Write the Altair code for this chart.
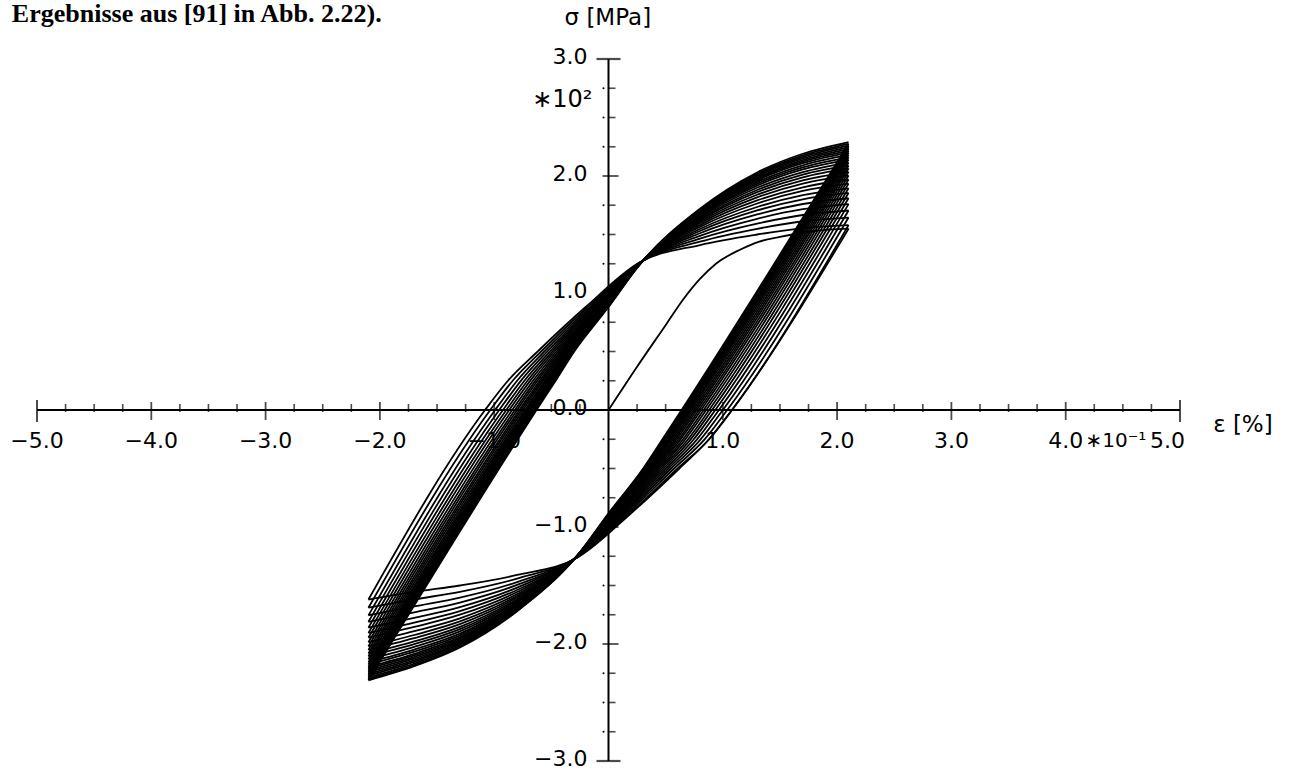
import altair as alt
import pandas as pd

# Axis ranges: strain in 1e-1 %, stress in 1e2 MPa
X_DOMAIN = [-5.0, 5.0]
Y_DOMAIN = [-3.0, 3.0]
STRAIN_AMP = 2.1

# Tension peak stresses: initial loading first, then every reloading branch
tension_peaks = [1.55, 1.58, 1.645, 1.705, 1.76, 1.81, 1.855, 1.895, 1.935, 1.97,
                 2.005, 2.035, 2.065, 2.09, 2.115, 2.14, 2.16, 2.18, 2.20, 2.215,
                 2.23, 2.245, 2.26, 2.275, 2.29]
# Compression peak stresses (magnitudes), one per unloading branch
compression_peaks = [1.62, 1.69, 1.755, 1.81, 1.86, 1.905, 1.945, 1.985, 2.02, 2.05,
                     2.08, 2.105, 2.13, 2.155, 2.175, 2.195, 2.21, 2.225, 2.24, 2.255,
                     2.27, 2.285, 2.30, 2.31]

# Reloading branch of the first and of the last cycle (strain, stress)
first_branch_eps = [-2.10, -1.08, -0.88, -0.62, -0.20, 0.27, 0.80, 1.30, 1.70, 2.10]
first_branch_sig = [-1.62, 0.00, 0.25, 0.50, 0.88, 1.26, 1.41, 1.50, 1.555, 1.58]
last_branch_eps = [-2.10, -0.63, -0.45, -0.30, 0.00, 0.27, 0.80, 1.30, 1.70, 2.10]
last_branch_sig = [-2.31, 0.00, 0.27, 0.50, 0.88, 1.24, 1.72, 2.03, 2.19, 2.29]

# Initial loading curve
initial_eps = [0.0, 0.25, 0.51, 0.65, 0.80, 0.94, 1.15, 1.32, 1.50, 1.80, 2.10]
initial_sig = [0.0, 0.37, 0.74, 0.94, 1.12, 1.25, 1.37, 1.44, 1.48, 1.53, 1.55]

# Axis ticks
x_major = [-4, -3, -2, -1, 1, 2, 3, 4]
x_minor = [i / 4 for i in range(-19, 20) if i % 4 != 0]
y_major = [-2, -1, 1, 2]
y_minor = [i / 4 for i in range(-11, 12) if i % 4 != 0]

x_label_vals = [-5, -4, -3, -2, -1, 1, 2, 3, 4]
x_label_txt = ["\u22125.0", "\u22124.0", "\u22123.0", "\u22122.0", "\u22121.0",
               "1.0", "2.0", "3.0", "4.0"]
y_label_vals = [-3, -2, -1, 0, 1, 2, 3]
y_label_txt = ["\u22123.0", "\u22122.0", "\u22121.0", "0.0", "1.0", "2.0", "3.0"]

LABEL_FONT = "DejaVu Sans"
LABEL_SIZE = 22
INK = "#000000"


def clamp01(v):
    return max(0.0, min(1.0, v))


def branch(rev_mag, end_mag, w_rev, w_end):
    pts = []
    for i in range(len(first_branch_eps)):
        if i <= 2:
            w = w_rev
        elif i >= 5:
            w = w_end
        else:
            w = 0.5 * (w_rev + w_end)
        e = first_branch_eps[i] + (last_branch_eps[i] - first_branch_eps[i]) * w
        s = first_branch_sig[i] + (last_branch_sig[i] - first_branch_sig[i]) * w
        pts.append((e, s))
    pts[0] = (-STRAIN_AMP, -rev_mag)
    pts[-1] = (STRAIN_AMP, end_mag)
    return pts


t_lo, t_hi = tension_peaks[1], tension_peaks[-1]
c_lo, c_hi = compression_peaks[0], compression_peaks[-1]

rows = []
for e, s in zip(initial_eps, initial_sig):
    rows.append({"branch": "init", "eps": e, "sig": s})
for k in range(len(compression_peaks)):
    # unloading: tension peak k -> compression peak k (point mirror of a reloading branch)
    wr = clamp01((tension_peaks[k] - t_lo) / (t_hi - t_lo))
    we = clamp01((compression_peaks[k] - c_lo) / (c_hi - c_lo))
    for e, s in branch(tension_peaks[k], compression_peaks[k], wr, we):
        rows.append({"branch": f"d{k}", "eps": -e, "sig": -s})
    # reloading: compression peak k -> tension peak k+1
    wr = clamp01((compression_peaks[k] - c_lo) / (c_hi - c_lo))
    we = clamp01((tension_peaks[k + 1] - t_lo) / (t_hi - t_lo))
    for e, s in branch(compression_peaks[k], tension_peaks[k + 1], wr, we):
        rows.append({"branch": f"a{k}", "eps": e, "sig": s})
curves = pd.DataFrame(rows)

xs = alt.Scale(domain=X_DOMAIN, nice=False, zero=False)
ys = alt.Scale(domain=Y_DOMAIN, nice=False, zero=False)


def X(field):
    return alt.X(field, type="quantitative", scale=xs, axis=None)


def Y(field):
    return alt.Y(field, type="quantitative", scale=ys, axis=None)


loops = alt.Chart(curves).mark_line(
    color=INK, strokeWidth=1.8, interpolate="monotone"
).encode(x=X("eps"), y=Y("sig"), detail="branch:N")

# axis lines
axis_df = pd.DataFrame({"x1": [X_DOMAIN[0], 0.0], "x2": [X_DOMAIN[1], 0.0],
                        "y1": [0.0, Y_DOMAIN[0]], "y2": [0.0, Y_DOMAIN[1]]})
axis_lines = alt.Chart(axis_df).mark_rule(color=INK, strokeWidth=2).encode(
    x=X("x1"), x2="x2", y=Y("y1"), y2="y2")

xminor_ticks = alt.Chart(pd.DataFrame({"v": x_minor, "z": 0.0})).mark_tick(
    orient="vertical", size=8, thickness=1.6, color=INK, yOffset=-2
).encode(x=X("v"), y=Y("z"))
xmajor_ticks = alt.Chart(pd.DataFrame({"v": x_major, "z": 0.0})).mark_tick(
    orient="vertical", size=18, thickness=1.8, color=INK, yOffset=1
).encode(x=X("v"), y=Y("z"))
xend_ticks = alt.Chart(pd.DataFrame({"v": X_DOMAIN, "z": 0.0})).mark_tick(
    orient="vertical", size=22, thickness=2, color=INK, yOffset=1
).encode(x=X("v"), y=Y("z"))

yminor_ticks = alt.Chart(pd.DataFrame({"v": y_minor, "z": 0.0})).mark_tick(
    orient="horizontal", size=7, thickness=1.6, color=INK, xOffset=3.5
).encode(y=Y("v"), x=X("z"))
yminor_dots = alt.Chart(pd.DataFrame({"v": y_minor, "z": 0.0})).mark_circle(
    size=4, color=INK, opacity=1, xOffset=-5
).encode(y=Y("v"), x=X("z"))
ymajor_ticks = alt.Chart(pd.DataFrame({"v": y_major, "z": 0.0})).mark_tick(
    orient="horizontal", size=16, thickness=1.8, color=INK, xOffset=2
).encode(y=Y("v"), x=X("z"))
yend_ticks = alt.Chart(pd.DataFrame({"v": Y_DOMAIN, "z": 0.0})).mark_tick(
    orient="horizontal", size=24, thickness=2.2, color=INK
).encode(y=Y("v"), x=X("z"))

# tick labels
xlab = alt.Chart(pd.DataFrame({"v": x_label_vals, "t": x_label_txt, "y": -0.265})).mark_text(
    font=LABEL_FONT, fontSize=LABEL_SIZE, color=INK, align="center", baseline="middle"
).encode(x=X("v"), y=Y("y"), text="t:N")
ylab = alt.Chart(pd.DataFrame({"v": y_label_vals, "t": y_label_txt, "x": -0.184})).mark_text(
    font=LABEL_FONT, fontSize=LABEL_SIZE, color=INK, align="right", baseline="middle",
    dy=-2
).encode(y=Y("v"), x=X("x"), text="t:N")

# unit multipliers and the last strain label
five_label = alt.Chart(pd.DataFrame({"x": [4.89], "y": [-0.265], "t": ["5.0"]})).mark_text(
    font=LABEL_FONT, fontSize=LABEL_SIZE, color=INK, align="center", baseline="middle"
).encode(x=X("x"), y=Y("y"), text="t:N")
x_mult = alt.Chart(pd.DataFrame({"x": [4.44], "y": [-0.265], "t": ["\u221710\u207b\u00b9"]})).mark_text(
    font=LABEL_FONT, fontSize=20, color=INK, align="center", baseline="middle"
).encode(x=X("x"), y=Y("y"), text="t:N")
y_mult = alt.Chart(pd.DataFrame({"x": [-0.14], "y": [2.65], "t": ["\u221710\u00b2"]})).mark_text(
    font=LABEL_FONT, fontSize=24, color=INK, align="right", baseline="middle"
).encode(x=X("x"), y=Y("y"), text="t:N")

titles = alt.Chart(pd.DataFrame({"x": [-0.385, 5.29], "y": [3.35, -0.13],
                                 "t": ["\u03c3 [MPa]", "\u03b5 [%]"]})).mark_text(
    font=LABEL_FONT, fontSize=23, color=INK, align="left", baseline="middle"
).encode(x=X("x"), y=Y("y"), text="t:N")

heading = alt.Chart(pd.DataFrame({"x": [-5.22], "y": [3.32],
                                  "t": ["Ergebnisse aus [91] in Abb. 2.22)."]})).mark_text(
    font="Liberation Serif", fontWeight="bold", fontSize=26, color=INK,
    align="left", baseline="alphabetic"
).encode(x=X("x"), y=Y("y"), text="t:N")

chart = alt.layer(
    xlab, ylab, five_label, x_mult, y_mult, titles, heading,
    axis_lines, xminor_ticks, xmajor_ticks, xend_ticks,
    yminor_ticks, yminor_dots, ymajor_ticks, yend_ticks,
    loops,
).properties(
    width=1143, height=702,
    autosize=alt.AutoSizeParams(type="none"),
    padding={"left": 37, "top": 59, "right": 121, "bottom": 10},
    background="white",
).configure_view(stroke=None)

chart.save("out.html", embed_options={"renderer": "svg", "actions": False})
